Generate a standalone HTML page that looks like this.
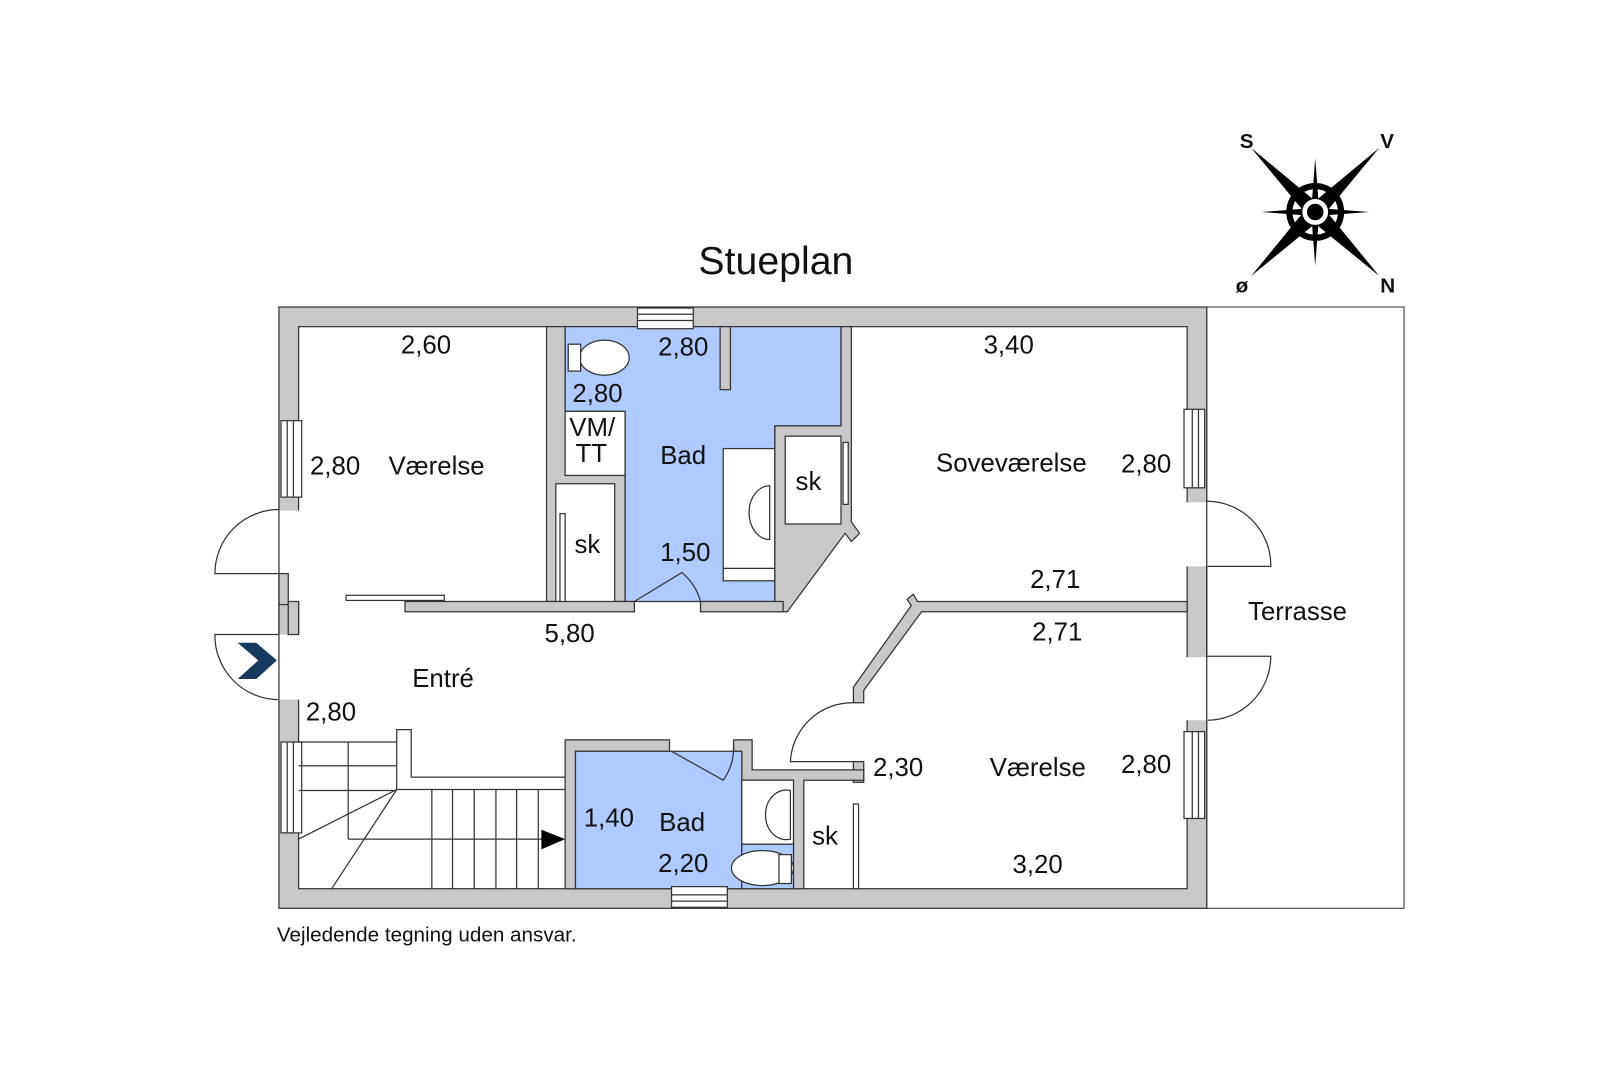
<!DOCTYPE html>
<html><head><meta charset="utf-8"><style>
html,body{margin:0;padding:0;background:#fff;width:1620px;height:1080px;overflow:hidden}
svg{display:block}
text{font-family:"Liberation Sans",sans-serif;fill:#111}
</style></head><body>
<svg width="1620" height="1080" viewBox="0 0 1568 1045" xmlns="http://www.w3.org/2000/svg">
<g stroke="#333" stroke-width="1.2">
<rect x="1168" y="297" width="191" height="582" fill="#fff" stroke="#555"/>
<rect x="270" y="297" width="898" height="582" fill="#c8c8c8"/>
<rect x="289" y="316" width="860" height="544" fill="#fff"/>
<polygon points="547,316 814,316 814,412 750,412 750,582 605,582 605,398 547,398" fill="#aecbff"/>
<rect x="697" y="316" width="10" height="61" fill="#c8c8c8"/>
<polygon points="529,316 547,316 547,460 605,460 605,582 595,582 595,468 538,468 538,582 529,582" fill="#c8c8c8"/>
<rect x="547" y="398" width="58" height="62" fill="#fff"/>
<rect x="700" y="434" width="50" height="128" fill="#fff"/>
<line x1="700" y1="550" x2="750" y2="550"/>
<polygon points="750,412 814,412 814,316 824,316 824,505 832,516 824,524 818,516 762,592 750,592" fill="#c8c8c8"/>
<rect x="760" y="422" width="54" height="85" fill="#fff"/>
<rect x="392" y="582" width="222" height="10" fill="#c8c8c8"/>
<rect x="678" y="582" width="80" height="10" fill="#c8c8c8"/>
<rect x="335" y="576" width="95" height="5" fill="#fff"/>
<polygon points="888,582 1149,582 1149,592 892,592 836,668 836,680 826,680 826,665 882,586 878,580 884,575" fill="#c8c8c8"/>
<rect x="826" y="737" width="10" height="20" fill="#c8c8c8"/>
<polygon points="384,706 398,706 398,752 547,752 547,764 384,764" fill="#fff"/>
<polygon points="547,716 648,716 648,727 557,727 557,860 547,860" fill="#c8c8c8"/>
<polygon points="710,716 728,716 728,745 836,745 836,755 778,755 778,860 768,860 768,755 718,755 718,727 710,727" fill="#c8c8c8"/>
<rect x="557" y="727" width="161" height="133" fill="#aecbff"/>
<rect x="718" y="755" width="50" height="62" fill="#fff"/>
<rect x="718" y="817" width="50" height="43" fill="#aecbff"/>
<ellipse cx="585" cy="346" rx="24" ry="17" fill="#fff"/>
<rect x="550" y="333" width="12" height="26" fill="#fff"/>
<ellipse cx="738" cy="840" rx="30" ry="17" fill="#fff"/>
<rect x="754" y="827" width="12" height="28" fill="#fff"/>
<path d="M745,470 A20,26 0 1 0 745,522 Z" fill="#fff"/>
<path d="M765,765 A20,24 0 1 0 765,812 Z" fill="#fff"/>
<g fill="none">
<path d="M614,582 L660,554 A55,55 0 0 1 678,582"/>
<path d="M650,727 L700,755 A55,55 0 0 0 710,720"/>
<path d="M826,680 A60,60 0 0 0 765,737 L826,737"/>
<path d="M270,493 A62,62 0 0 0 208,555 L270,555"/>
<path d="M270,677 A62,62 0 0 1 208,614 L270,614"/>
<path d="M1168,485 A62,62 0 0 1 1230,548 L1168,548"/>
<path d="M1168,697 A62,62 0 0 0 1230,635 L1168,635"/>
</g>
<rect x="269" y="494" width="21" height="88" fill="#fff" stroke="none"/>
<rect x="269" y="614" width="21" height="63" fill="#fff" stroke="none"/>
<rect x="1148" y="486" width="21" height="62" fill="#fff" stroke="none"/>
<rect x="1148" y="636" width="21" height="61" fill="#fff" stroke="none"/>
<rect x="270" y="555" width="9" height="30" fill="#c8c8c8"/>
<rect x="279" y="582" width="10" height="32" fill="#c8c8c8"/>
<line x1="270" y1="493" x2="270" y2="677"/>
<line x1="1168" y1="485" x2="1168" y2="697"/>
<rect x="272" y="407" width="20" height="74" fill="#fff"/><line x1="278" y1="407" x2="278" y2="481"/><line x1="284" y1="407" x2="284" y2="481"/>
<rect x="272" y="718" width="20" height="88" fill="#fff"/><line x1="278" y1="718" x2="278" y2="806"/><line x1="284" y1="718" x2="284" y2="806"/>
<rect x="1146" y="396" width="20" height="76" fill="#fff"/><line x1="1154" y1="396" x2="1154" y2="472"/><line x1="1160" y1="396" x2="1160" y2="472"/>
<rect x="1146" y="708" width="20" height="84" fill="#fff"/><line x1="1154" y1="708" x2="1154" y2="792"/><line x1="1160" y1="708" x2="1160" y2="792"/>
<rect x="617" y="298" width="54" height="20" fill="#fff"/><line x1="617" y1="304" x2="671" y2="304"/><line x1="617" y1="310" x2="671" y2="310"/>
<rect x="650" y="858" width="54" height="20" fill="#fff"/><line x1="650" y1="866" x2="704" y2="866"/><line x1="650" y1="872" x2="704" y2="872"/>
<rect x="542" y="497" width="5" height="85" fill="#fff"/>
<rect x="816" y="428" width="5" height="60" fill="#fff"/>
<rect x="826" y="778" width="5" height="82" fill="#fff"/>
<g fill="none">
<line x1="289" y1="741" x2="384" y2="741"/>
<line x1="289" y1="765" x2="384" y2="765"/>
<line x1="337" y1="718" x2="337" y2="812"/>
<line x1="337" y1="812" x2="530" y2="812"/>
<line x1="384" y1="764" x2="289" y2="812"/>
<line x1="384" y1="764" x2="321" y2="860"/>
<line x1="289" y1="718" x2="384" y2="718"/>
<line x1="418" y1="764" x2="418" y2="860"/>
<line x1="438" y1="764" x2="438" y2="860"/>
<line x1="459" y1="764" x2="459" y2="860"/>
<line x1="480" y1="764" x2="480" y2="860"/>
<line x1="500" y1="764" x2="500" y2="860"/>
<line x1="521" y1="764" x2="521" y2="860"/>
</g>
</g>
<polygon points="524,803 547,812 524,822" fill="#000"/>
<polygon points="230,622 248,622 268,639 248,657 230,657 250,639" fill="#163a5f"/>
<g transform="translate(1273,205)">
<circle r="25" fill="none" stroke="#000" stroke-width="6"/>
<polygon points="0,-52 4,0 0,52 -4,0" fill="#000"/>
<polygon points="-52,0 0,-4 52,0 0,4" fill="#000"/>
<polygon points="-62,-62 8,-4 62,62 -4,8" fill="#000"/>
<polygon points="62,-62 4,8 -62,62 -8,-4" fill="#000"/>
<circle r="13" fill="#fff" stroke="#000"/>
<circle r="8" fill="#000"/>
</g>
<g font-size="20" font-weight="bold">
<text x="1200" y="143">S</text><text x="1336" y="143">V</text>
<text x="1196" y="283">ø</text><text x="1336" y="283">N</text>
</g>
<text x="676" y="265" font-size="38">Stueplan</text>
<g font-size="25">
<text x="388" y="342">2,60</text>
<text x="637" y="344">2,80</text>
<text x="554" y="389">2,80</text>
<text x="551" y="422">VM/</text>
<text x="557" y="447">TT</text>
<text x="639" y="449">Bad</text>
<text x="952" y="342">3,40</text>
<text x="300" y="459">2,80</text>
<text x="376" y="459">Værelse</text>
<text x="906" y="456">Soveværelse</text>
<text x="1085" y="457">2,80</text>
<text x="770" y="474">sk</text>
<text x="556" y="535">sk</text>
<text x="639" y="543">1,50</text>
<text x="997" y="569">2,71</text>
<text x="1208" y="600">Terrasse</text>
<text x="527" y="621">5,80</text>
<text x="999" y="620">2,71</text>
<text x="399" y="665">Entré</text>
<text x="296" y="697">2,80</text>
<text x="845" y="751">2,30</text>
<text x="958" y="751">Værelse</text>
<text x="1085" y="748">2,80</text>
<text x="565" y="800">1,40</text>
<text x="638" y="804">Bad</text>
<text x="786" y="817">sk</text>
<text x="637" y="844">2,20</text>
<text x="980" y="845">3,20</text>
</g>
<text x="268" y="911" font-size="20">Vejledende tegning uden ansvar.</text>
</svg>
</body></html>
